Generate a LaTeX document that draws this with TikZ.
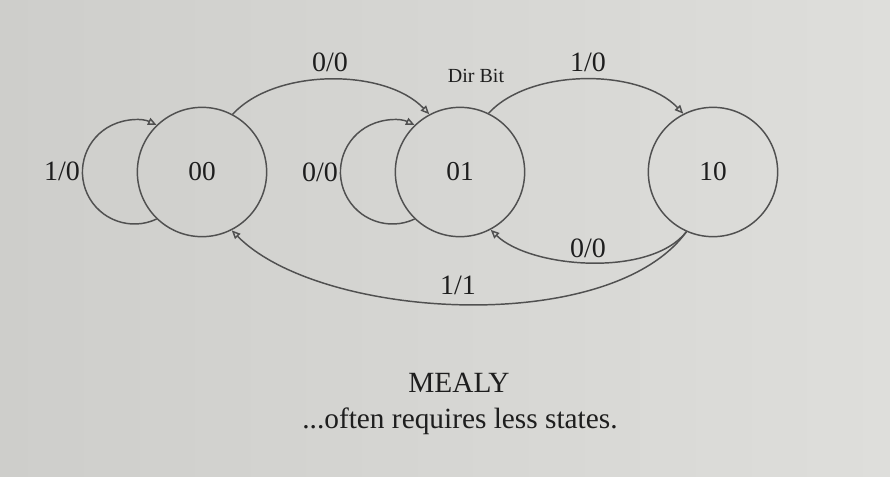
\documentclass[tikz,border=0pt]{standalone}
\usepackage{fontspec}
\setmainfont{Liberation Serif}
\usetikzlibrary{arrows.meta}
\definecolor{slidebg}{RGB}{214,214,211}
\definecolor{inkline}{RGB}{80,80,80}
\definecolor{inktext}{RGB}{30,30,30}

\begin{document}
\begin{tikzpicture}[x=0.75pt,y=0.75pt,yscale=-1,xscale=1,
  state/.style={draw=inkline,line width=1.1pt,circle,minimum size=97pt,inner sep=0pt,text=inktext,font=\fontsize{20.5}{24}\selectfont},
  trans/.style={draw=inkline,line width=1.1pt,-{Triangle[open,length=6.5pt,width=5.5pt]}},
  lbl/.style={inner sep=0.75pt,text=inktext,font=\fontsize{21}{25}\selectfont}]
%set diagram left start at 0, and has height of 476
\useasboundingbox (0,0) rectangle (890,476);
\shade [left color={rgb,255:red,206;green,206;blue,203},right color={rgb,255:red,222;green,222;blue,219}] (0,0) rectangle (890,476);

%States
\node [state] (s00) at (202,172) {00};
\node [state] (s01) at (460,172) {01};
\node [state] (s10) at (713,172) {10};

%Self loops
\draw [trans] (s00.226) arc [start angle=64.8,end angle=295.2,radius=52];
\draw [trans] (s01.226) arc [start angle=64.8,end angle=295.2,radius=52];

%Transitions
\draw [trans] (s00.62) .. controls (275,68) and (385,68) .. (s01.118);
\draw [trans] (s01.64) .. controls (530,68) and (640,68) .. (s10.117);
\draw [trans] (s10.246) .. controls (650,278) and (530,268) .. (s01.298);
\draw [trans] (s10.246) .. controls (610,337) and (320,320) .. (s00.297);

% Text Node
\node [lbl] (l00a) at (62,171) {1/0};
% Text Node
\node [lbl] (l01a) at (320,172) {0/0};
% Text Node
\node [lbl] (l0001) at (330,62) {0/0};
% Text Node
\node [lbl] (l0110) at (588,62) {1/0};
% Text Node
\node [lbl,font=\fontsize{15}{18}\selectfont] (dirbit) at (476,76) {Dir Bit};
% Text Node
\node [lbl] (l1001) at (588,248) {0/0};
% Text Node
\node [lbl] (l1000) at (458,285) {1/1};
% Text Node
\node [lbl,font=\fontsize{22}{26}\selectfont] (title) at (459,383) {MEALY};
% Text Node
\node [lbl,font=\fontsize{22}{26}\selectfont] (note) at (460,421) {...often requires less states.};

\end{tikzpicture}
\end{document}
